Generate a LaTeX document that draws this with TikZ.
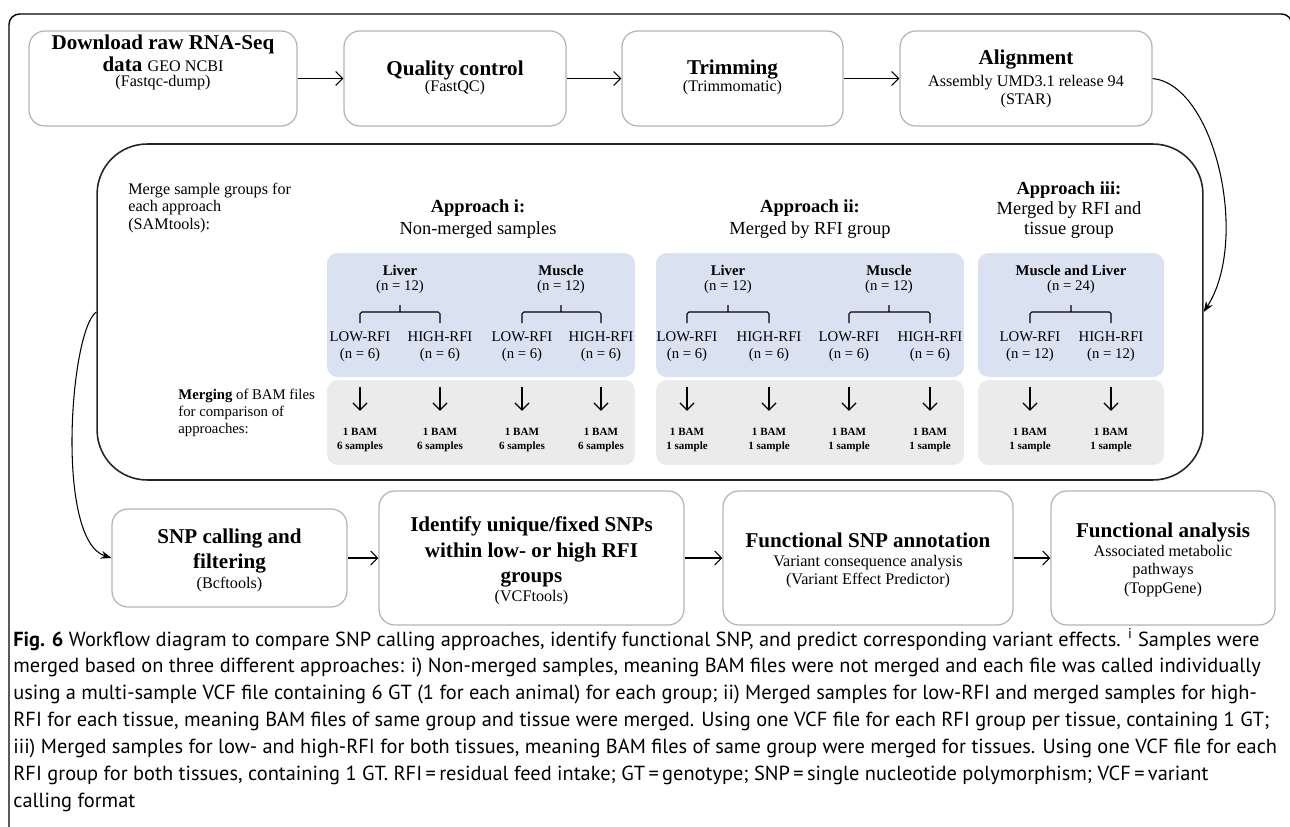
\documentclass[tikz,border=0pt]{standalone}
\usepackage{fontspec}
\setmainfont{Liberation Serif}
\newfontfamily\capfont{PT Sans}
\usetikzlibrary{arrows.meta}
\definecolor{panelblue}{HTML}{DAE1F0}
\definecolor{panelgray}{HTML}{EBEBEB}
\definecolor{boxgray}{HTML}{B4B4B4}

\begin{document}
\begin{tikzpicture}[
        x=0.02cm, y=-0.02cm,
        stepbox/.style={draw=boxgray, line width=0.7pt, fill=white, rounded corners=9pt, inner sep=0pt},
        mergebox/.style={draw=black!85, line width=0.9pt, rounded corners=1cm, inner sep=0pt},
        bluepanel/.style={fill=panelblue, rounded corners=6pt, inner sep=0pt},
        graypanel/.style={fill=panelgray, rounded corners=6pt, inner sep=0pt},
        steptitle/.style={font=\bfseries\fontsize{12}{14.5}\selectfont, align=center, inner sep=0pt},
        stepnote/.style={font=\fontsize{9.2}{10.5}\selectfont, align=center, inner sep=0pt},
        apptitle/.style={font=\bfseries\fontsize{10.5}{12.5}\selectfont, align=center, inner sep=0pt},
        appnote/.style={font=\fontsize{10.5}{11.5}\selectfont, align=center, inner sep=0pt},
        tissue/.style={font=\bfseries\fontsize{8.4}{9.6}\selectfont, align=center, inner sep=0pt},
        groupcount/.style={font=\fontsize{8.4}{9.6}\selectfont, align=center, inner sep=0pt},
        bamtxt/.style={font=\bfseries\fontsize{6.3}{8}\selectfont, align=center, inner sep=0pt},
        sidenote/.style={font=\fontsize{9.2}{9.8}\selectfont, align=left, anchor=north west, inner sep=0pt},
        captxt/.style={font=\capfont\fontsize{11.6}{15.3}\selectfont, align=left, anchor=north west, inner sep=0pt},
        flowarrow/.style={-{Straight Barb[length=4pt,width=8pt]}, line width=0.6pt},
        downarrow/.style={-{Straight Barb[length=4pt,width=8pt]}, line width=0.7pt, shorten <=0.5cm, shorten >=0.34cm},
        bendarrow/.style={-{Stealth[length=6pt,width=4.5pt]}, line width=0.6pt},
        bracket/.style={line width=0.6pt, rounded corners=1pt}
    ]
    \useasboundingbox (0,0) rectangle (1290,827);
    % outer frame
    \draw[line width=0.8pt, rounded corners=6pt] (9,860) -- (9,14) -- (1292,14) -- (1292,860);

    % top row
    \node[stepbox, minimum width=5.36cm, minimum height=1.9cm] (dl) at (163,78.5) {};
    \node[steptitle] (dltitle) at (163,44) {Download raw RNA-Seq};
    \node[steptitle] (dldata) at (163,64) {data {\mdseries\fontsize{9.2}{10.5}\selectfont GEO NCBI}};
    \node[stepnote] (dlnote) at (163,83) {(Fastqc-dump)};

    \node[stepbox, minimum width=4.44cm, minimum height=1.9cm] (qc) at (455,78.5) {};
    \node[steptitle] (qctitle) at (455,70) {Quality control};
    \node[stepnote] (qcnote) at (455,88) {(FastQC)};

    \node[stepbox, minimum width=4.42cm, minimum height=1.9cm] (trim) at (732.5,78.5) {};
    \node[steptitle] (trimtitle) at (732.5,70) {Trimming};
    \node[stepnote] (trimnote) at (732.5,88) {(Trimmomatic)};

    \node[stepbox, minimum width=5.04cm, minimum height=1.9cm] (align) at (1026,78.5) {};
    \node[steptitle] (aligntitle) at (1026,60) {Alignment};
    \node[stepnote] (alignnote) at (1026,91.5) {Assembly UMD3.1 release 94\\(STAR)};

    \draw[flowarrow] (dl) -- (qc);
    \draw[flowarrow] (qc) -- (trim);
    \draw[flowarrow] (trim) -- (align);

    % merge box
    \node[mergebox, minimum width=22.12cm, minimum height=6.72cm] (merge) at (650,312) {};
    \node[sidenote] (mergenote) at (128,183) {Merge sample groups for\\each approach\\(SAMtools):};
    \node[sidenote, font=\fontsize{8.4}{9.6}\selectfont] (bamnote) at (178,389) {\textbf{Merging} of BAM files\\for comparison of\\approaches:};

    \node[apptitle] (appi) at (478,208) {Approach i:};
    \node[appnote] (appinote) at (478,230) {Non-merged samples};
    \node[apptitle] (appii) at (810,208) {Approach ii:};
    \node[appnote] (appiinote) at (810,230) {Merged by RFI group};
    \node[apptitle] (appiii) at (1069,190) {Approach iii:};
    \node[appnote] (appiiinote) at (1069,220) {Merged by RFI and\\tissue group};

    % panels
    \node[bluepanel, minimum width=6.16cm, minimum height=2.48cm] (bluei) at (481,315) {};
    \node[bluepanel, minimum width=6.16cm, minimum height=2.48cm] (blueii) at (810,315) {};
    \node[bluepanel, minimum width=3.72cm, minimum height=2.48cm] (blueiii) at (1071,315) {};
    \node[graypanel, minimum width=6.16cm, minimum height=1.7cm] (grayi) at (481,422.5) {};
    \node[graypanel, minimum width=6.16cm, minimum height=1.7cm] (grayii) at (810,422.5) {};
    \node[graypanel, minimum width=3.72cm, minimum height=1.7cm] (grayiii) at (1071,422.5) {};

    % approach i
    \node[tissue] (liveri) at (400,270) {Liver};
    \node[groupcount] (liverin) at (400,287) {(n = 12)};
    \node[tissue] (musclei) at (561,270) {Muscle};
    \node[groupcount] (musclein) at (561,287) {(n = 12)};
    \draw[bracket] (360,323) -- (360,312) -- (440,312) -- (440,323) (400,312) -- (400,305);
    \draw[bracket] (522,323) -- (522,312) -- (601,312) -- (601,323) (561,312) -- (561,305);
    \node[groupcount] (lowi1) at (360,346.5) {LOW-RFI\\(n = 6)};
    \node[groupcount] (highi1) at (440,346.5) {HIGH-RFI\\(n = 6)};
    \node[groupcount] (lowi2) at (522,346.5) {LOW-RFI\\(n = 6)};
    \node[groupcount] (highi2) at (601,346.5) {HIGH-RFI\\(n = 6)};
    \node[bamtxt] (bamli1) at (360,440) {1 BAM\\6 samples};
    \node[bamtxt] (bamhi1) at (440,440) {1 BAM\\6 samples};
    \node[bamtxt] (bamli2) at (522,440) {1 BAM\\6 samples};
    \node[bamtxt] (bamhi2) at (601,440) {1 BAM\\6 samples};
    \draw[downarrow] (lowi1) -- (bamli1);
    \draw[downarrow] (highi1) -- (bamhi1);
    \draw[downarrow] (lowi2) -- (bamli2);
    \draw[downarrow] (highi2) -- (bamhi2);

    % approach ii
    \node[tissue] (liverii) at (728,270) {Liver};
    \node[groupcount] (liveriin) at (728,287) {(n = 12)};
    \node[tissue] (muscleii) at (889,270) {Muscle};
    \node[groupcount] (muscleiin) at (889,287) {(n = 12)};
    \draw[bracket] (687,323) -- (687,312) -- (769,312) -- (769,323) (728,312) -- (728,305);
    \draw[bracket] (849,323) -- (849,312) -- (930,312) -- (930,323) (889,312) -- (889,305);
    \node[groupcount] (lowii1) at (687,346.5) {LOW-RFI\\(n = 6)};
    \node[groupcount] (highii1) at (769,346.5) {HIGH-RFI\\(n = 6)};
    \node[groupcount] (lowii2) at (849,346.5) {LOW-RFI\\(n = 6)};
    \node[groupcount] (highii2) at (930,346.5) {HIGH-RFI\\(n = 6)};
    \node[bamtxt] (bamlii1) at (687,440) {1 BAM\\1 sample};
    \node[bamtxt] (bamhii1) at (769,440) {1 BAM\\1 sample};
    \node[bamtxt] (bamlii2) at (849,440) {1 BAM\\1 sample};
    \node[bamtxt] (bamhii2) at (930,440) {1 BAM\\1 sample};
    \draw[downarrow] (lowii1) -- (bamlii1);
    \draw[downarrow] (highii1) -- (bamhii1);
    \draw[downarrow] (lowii2) -- (bamlii2);
    \draw[downarrow] (highii2) -- (bamhii2);

    % approach iii
    \node[tissue] (bothiii) at (1071,270) {Muscle and Liver};
    \node[groupcount] (bothiiin) at (1071,287) {(n = 24)};
    \draw[bracket] (1030,323) -- (1030,312) -- (1111,312) -- (1111,323) (1071,312) -- (1071,305);
    \node[groupcount] (lowiii) at (1030,346.5) {LOW-RFI\\(n = 12)};
    \node[groupcount] (highiii) at (1111,346.5) {HIGH-RFI\\(n = 12)};
    \node[bamtxt] (bamliii) at (1030,440) {1 BAM\\1 sample};
    \node[bamtxt] (bamhiii) at (1111,440) {1 BAM\\1 sample};
    \draw[downarrow] (lowiii) -- (bamliii);
    \draw[downarrow] (highiii) -- (bamhiii);

    % bottom row
    \node[stepbox, minimum width=4.7cm, minimum height=1.96cm] (snp) at (229.5,558) {};
    \node[steptitle] (snptitle) at (229.5,551) {SNP calling and\\filtering};
    \node[stepnote] (snpnote) at (229.5,585) {(Bcftools)};

    \node[stepbox, minimum width=6.1cm, minimum height=2.68cm] (uniq) at (531.5,558) {};
    \node[steptitle] (uniqtitle) at (531.5,552) {Identify unique/fixed SNPs\\within low- or high RFI\\groups};
    \node[stepnote] (uniqnote) at (531.5,598) {(VCFtools)};

    \node[stepbox, minimum width=5.8cm, minimum height=2.68cm] (annot) at (868,558) {};
    \node[steptitle] (annottitle) at (868,540) {Functional SNP annotation};
    \node[stepnote] (annotnote) at (868,571.5) {Variant consequence analysis\\(Variant Effect Predictor)};

    \node[stepbox, minimum width=4.48cm, minimum height=2.68cm] (func) at (1163,558) {};
    \node[steptitle] (functitle) at (1163,532) {Functional analysis};
    \node[stepnote] (funcnote) at (1163,571) {Associated metabolic\\pathways\\(ToppGene)};

    \draw[flowarrow] (snp) -- (uniq);
    \draw[flowarrow] (uniq) -- (annot);
    \draw[flowarrow] (annot) -- (func);

    % curved connectors
    \draw[bendarrow] (align.east) .. controls (1215,85) and (1250,240) .. (merge.east);
    \draw[bendarrow] (merge.west) .. controls (70,330) and (55,540) .. (snp.west);

    % caption
    \node[captxt] (caption) at (13,628) {\textbf{Fig. 6} Workflow diagram to compare SNP calling approaches, identify functional SNP, and predict corresponding variant effects. \textsuperscript{i} Samples were\\
merged based on three different approaches: i) Non-merged samples, meaning BAM files were not merged and each file was called individually\\
using a multi-sample VCF file containing 6 GT (1 for each animal) for each group; ii) Merged samples for low-RFI and merged samples for high-\\
RFI for each tissue, meaning BAM files of same group and tissue were merged. Using one VCF file for each RFI group per tissue, containing 1 GT;\\
iii) Merged samples for low- and high-RFI for both tissues, meaning BAM files of same group were merged for tissues. Using one VCF file for each\\
RFI group for both tissues, containing 1 GT. RFI\,=\,residual feed intake; GT\,=\,genotype; SNP\,=\,single nucleotide polymorphism; VCF\,=\,variant\\
calling format};
\end{tikzpicture}
\end{document}
